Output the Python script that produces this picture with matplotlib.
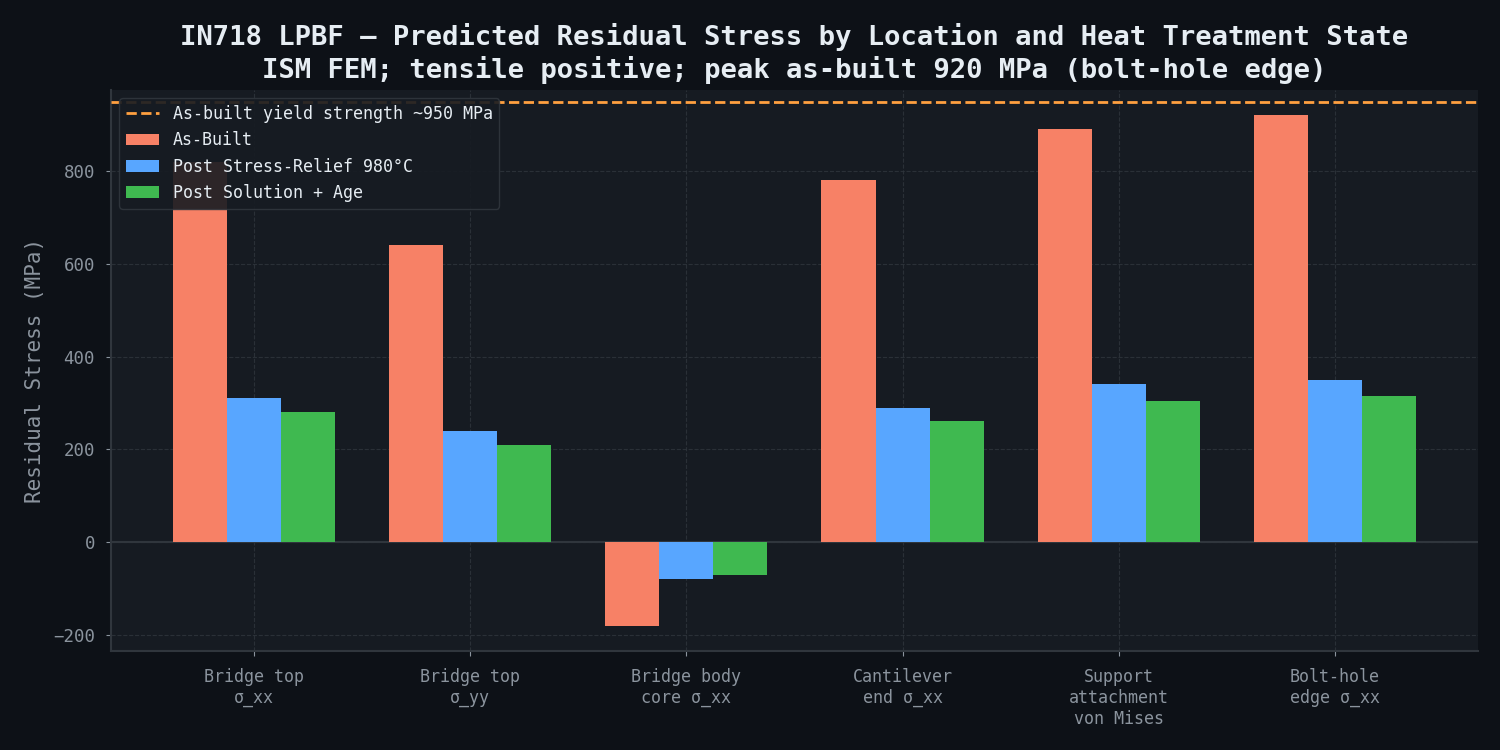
import numpy as np
import matplotlib
matplotlib.use("Agg")
import matplotlib.pyplot as plt

# data
locations = [
    "Bridge top\nσ_xx",
    "Bridge top\nσ_yy",
    "Bridge body\ncore σ_xx",
    "Cantilever\nend σ_xx",
    "Support\nattachment\nvon Mises",
    "Bolt-hole\nedge σ_xx",
]
as_built = [820, 640, -180, 780, 890, 920]
stress_relief = [310, 240, -80, 290, 340, 350]
solution_age = [280, 210, -70, 260, 305, 315]
yield_strength = 950

series_labels = ["As-Built", "Post Stress-Relief 980°C", "Post Solution + Age"]
series_colors = ["#f78166", "#58a6ff", "#3fb950"]

BG = "#0d1117"
AX_BG = "#161b22"
GRID = "#30363d"
TXT = "#e6edf3"
MUTED = "#8b949e"

plt.rcParams["font.family"] = ["DejaVu Sans Mono", "DejaVu Sans"]

fig, ax = plt.subplots(figsize=(15, 7.5), dpi=100)
fig.patch.set_facecolor(BG)
ax.set_facecolor(AX_BG)
fig.subplots_adjust(left=0.074, right=0.9853, top=0.88, bottom=0.132)

x = np.arange(len(locations))
w = 0.25
for i, (vals, lab, col) in enumerate(zip([as_built, stress_relief, solution_age],
                                          series_labels, series_colors)):
    ax.bar(x + (i - 1) * w, vals, width=w, color=col, label=lab, zorder=3)

ax.axhline(yield_strength, color="#ffa040", linestyle="--", linewidth=2,
           label="As-built yield strength ~950 MPa", zorder=4)
ax.axhline(0, color=GRID, linewidth=1.5, zorder=2)

ax.set_xticks(x)
ax.set_xticklabels(locations, fontsize=12)
ax.tick_params(axis="y", labelsize=12.5, colors=MUTED, pad=8)
ax.tick_params(axis="x", colors=MUTED, pad=9)
ax.set_ylabel("Residual Stress (MPa)", fontsize=15, color=MUTED, labelpad=6)
ax.set_title("IN718 LPBF — Predicted Residual Stress by Location and Heat Treatment State\n"
             "ISM FEM; tensile positive; peak as-built 920 MPa (bolt-hole edge)",
             fontsize=19.6, fontweight="bold", color=TXT, pad=9)

ax.grid(True, linestyle="--", color=GRID, linewidth=0.8, alpha=0.8, zorder=0)
ax.set_axisbelow(True)
ax.spines["top"].set_visible(False)
ax.spines["right"].set_visible(False)
for s in ("left", "bottom"):
    ax.spines[s].set_color(GRID)
    ax.spines[s].set_linewidth(1.5)

leg = ax.legend(loc="upper left", fontsize=12, facecolor=AX_BG, edgecolor=GRID,
                framealpha=0.9)
for t in leg.get_texts():
    t.set_color(TXT)

fig.savefig("out.png", dpi=100, facecolor=BG)
